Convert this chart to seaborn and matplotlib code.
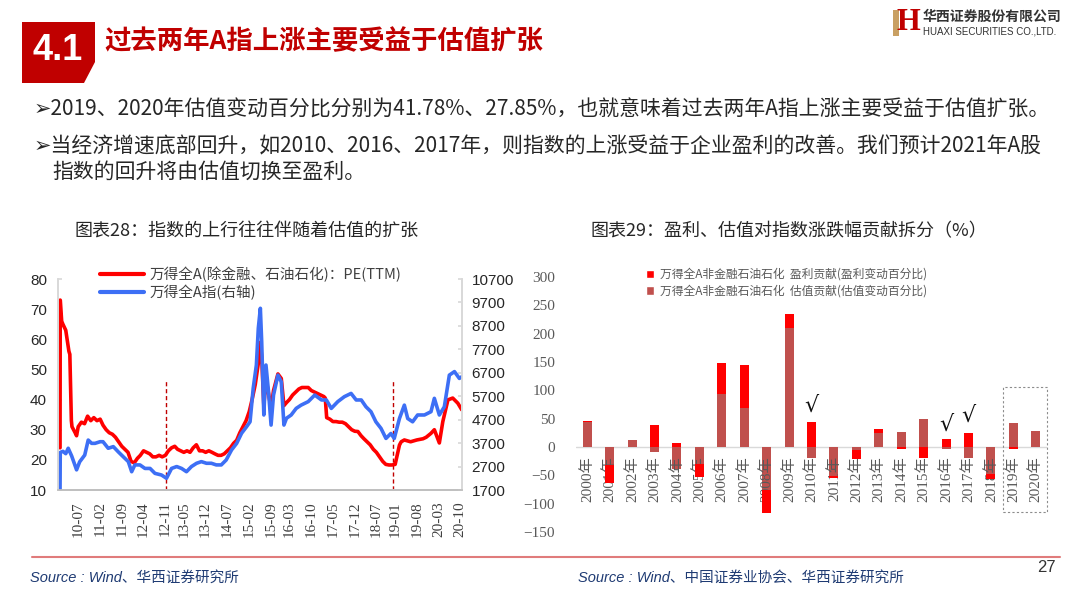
import numpy as np
import pandas as pd
import matplotlib
matplotlib.use("Agg")
import matplotlib.pyplot as plt
import matplotlib.dates as mdates
import seaborn as sns
from matplotlib.patches import Polygon, Rectangle, Patch
from matplotlib.lines import Line2D

# ---------------- data ----------------
pe_dates = ["2010-01-04", "2010-01-06", "2010-01-20", "2010-02-01", "2010-03-01", "2010-04-01", "2010-04-10",
            "2010-04-25", "2010-05-01", "2010-06-01", "2010-06-15", "2010-07-01", "2010-08-01", "2010-09-01",
            "2010-10-01", "2010-11-01", "2010-12-01", "2011-01-01", "2011-02-01", "2011-03-01", "2011-04-01",
            "2011-05-01", "2011-06-01", "2011-07-01", "2011-08-01", "2011-09-01", "2011-10-01", "2011-11-01",
            "2011-12-01", "2012-01-01", "2012-02-01", "2012-03-01", "2012-04-01", "2012-05-01", "2012-06-01",
            "2012-07-01", "2012-08-01", "2012-09-01", "2012-10-01", "2012-11-01", "2012-12-01", "2013-01-01",
            "2013-02-01", "2013-03-01", "2013-04-01", "2013-05-01", "2013-06-01", "2013-07-01", "2013-08-01",
            "2013-09-01", "2013-10-01", "2013-11-01", "2013-12-01", "2014-01-01", "2014-02-01", "2014-03-01",
            "2014-04-01", "2014-05-01", "2014-06-01", "2014-07-01", "2014-08-01", "2014-09-01", "2014-10-01",
            "2014-11-01", "2014-12-01", "2015-01-01", "2015-02-01", "2015-03-01", "2015-04-01", "2015-05-01",
            "2015-05-21", "2015-06-03", "2015-06-24", "2015-07-15", "2015-08-09", "2015-09-03", "2015-09-27",
            "2015-11-09", "2015-12-12", "2016-01-07", "2016-02-01", "2016-03-01", "2016-04-01", "2016-05-01",
            "2016-06-01", "2016-07-01", "2016-08-01", "2016-09-01", "2016-10-01", "2016-11-01", "2016-12-01",
            "2017-01-01", "2017-02-01", "2017-02-15", "2017-03-01", "2017-04-01", "2017-05-01", "2017-06-01",
            "2017-07-01", "2017-08-01", "2017-09-01", "2017-10-01", "2017-11-01", "2017-12-01", "2018-01-01",
            "2018-02-01", "2018-03-01", "2018-04-01", "2018-05-01", "2018-06-01", "2018-07-01", "2018-08-01",
            "2018-09-01", "2018-10-01", "2018-11-01", "2018-12-01", "2019-01-01", "2019-02-12", "2019-03-01",
            "2019-04-01", "2019-05-01", "2019-06-01", "2019-07-01", "2019-08-01", "2019-09-01", "2019-10-01",
            "2019-11-01", "2019-12-18", "2020-01-20", "2020-03-09", "2020-04-12", "2020-06-01", "2020-07-18",
            "2020-09-06", "2020-10-15"]
pe_values = [24, 73, 66, 65, 63, 56, 55,
             33, 31, 29, 28, 31, 32.5, 32,
             34.5, 33, 34, 33, 33.5, 31.5, 30,
             29, 28.5, 27.5, 26, 24.5, 23.5, 22.5,
             19.5, 19, 20.5, 21.5, 23, 22.5, 22,
             21, 21, 21.5, 21, 21.5, 23, 24,
             24.5, 23.5, 23, 22.5, 23, 22.5, 24,
             25, 23, 23, 22.5, 23, 22.5, 22,
             21.5, 21.5, 22, 23, 24, 25.5, 26.5,
             29, 31, 33, 36, 40, 45, 52,
             59, 54, 38, 47, 42, 37, 43,
             48.5, 47, 38, 39, 40, 41.5, 42.5,
             43.5, 44, 44, 44, 43, 42.5, 42,
             41.5, 41, 40.5, 34, 33.5, 32.7, 32.7,
             32.5, 32.5, 32, 31, 30, 29.5, 29.4,
             28, 27, 26, 25, 23.5, 22.5, 21,
             19.5, 18.5, 18.3, 18.3, 18.5, 24.9, 26,
             26.6, 26.3, 26, 26.3, 26.6, 26.8, 27,
             27.5, 28.8, 30, 25.6, 32.7, 39.9, 40.5,
             38.8, 36.6]

idx_dates = ["2010-01-04", "2010-01-06", "2010-02-01", "2010-03-01", "2010-03-25", "2010-04-28", "2010-06-15",
             "2010-07-15", "2010-09-03", "2010-10-07", "2010-11-10", "2010-12-13", "2011-02-01", "2011-03-01",
             "2011-04-21", "2011-06-10", "2011-07-28", "2011-09-15", "2011-11-04", "2011-12-07", "2012-01-07",
             "2012-02-26", "2012-04-15", "2012-06-04", "2012-07-22", "2012-09-24", "2012-11-12", "2013-01-01",
             "2013-02-20", "2013-04-09", "2013-05-27", "2013-07-15", "2013-09-03", "2013-10-20", "2013-12-09",
             "2014-01-26", "2014-03-15", "2014-05-03", "2014-06-20", "2014-08-12", "2014-10-01", "2014-11-18",
             "2015-01-06", "2015-02-09", "2015-03-12", "2015-04-12", "2015-05-01", "2015-05-21", "2015-06-03",
             "2015-06-24", "2015-07-15", "2015-08-09", "2015-09-03", "2015-09-27", "2015-11-09", "2015-12-12",
             "2016-01-07", "2016-02-01", "2016-03-18", "2016-05-06", "2016-06-23", "2016-09-01", "2016-11-04",
             "2017-01-09", "2017-02-26", "2017-04-15", "2017-06-18", "2017-08-21", "2017-10-26", "2017-12-15",
             "2018-02-03", "2018-03-21", "2018-05-09", "2018-06-26", "2018-08-15", "2018-10-03", "2018-11-20",
             "2018-12-23", "2019-02-12", "2019-04-01", "2019-05-04", "2019-06-21", "2019-08-09", "2019-10-15",
             "2019-12-18", "2020-01-20", "2020-03-09", "2020-04-27", "2020-06-15", "2020-08-04", "2020-09-21",
             "2020-10-15"]
idx_values = [1700, 3300, 3350, 3250, 3480, 3150, 2560,
              2900, 3190, 3830, 3690, 3690, 3760, 3760,
              3480, 3550, 3330, 3120, 2910, 2480, 2770,
              2770, 2620, 2620, 2410, 2340, 2200, 2620,
              2700, 2620, 2480, 2700, 2840, 2910, 2840,
              2840, 2770, 2770, 2980, 3410, 3690, 4120,
              4400, 4610, 6040, 7030, 8600, 9450, 8030,
              4900, 7030, 5890, 4470, 5750, 6600, 6320,
              4470, 4760, 4900, 5180, 5320, 5470, 5750,
              5540, 5540, 5180, 5470, 5680, 5820, 5540,
              5540, 5250, 5040, 4610, 4330, 3900, 4110,
              3900, 4750, 5320, 4750, 4610, 4900, 4900,
              5040, 5610, 4900, 5250, 6600, 6750, 6460,
              6530]

tick_dates = ["2010-07-01", "2011-02-01", "2011-09-01", "2012-04-01", "2012-11-01", "2013-05-01", "2013-12-01",
              "2014-07-01", "2015-02-01", "2015-09-01", "2016-03-01", "2016-10-01", "2017-05-01", "2017-12-01",
              "2018-07-01", "2019-01-01", "2019-08-01", "2020-03-01", "2020-10-01"]
tick_labels = ["10-07", "11-02", "11-09", "12-04", "12-11", "13-05", "13-12", "14-07", "15-02", "15-09",
               "16-03", "16-10", "17-05", "17-12", "18-07", "19-01", "19-08", "20-03", "20-10"]
marker_dates = ["2012-11-12", "2018-12-10"]

years = [2000, 2001, 2002, 2003, 2004, 2005, 2006, 2007, 2008, 2009, 2010,
         2011, 2012, 2013, 2014, 2015, 2016, 2017, 2018, 2019, 2020]
valuation = [45, -31, 12, -9, -39, -30, 94, 69, -76, 210, -19,
             -51, -5, 24, 27, 49, -4, -20, -47, 41.78, 27.85]
earnings = [1, -32, 0, 38, 7, -23, 54, 75, -40, 25, 44,
            -3, -17, 8, -4, -19, 15, 25, -9, -4, 0]
check_years = [2010, 2016, 2017]
check_y = [72, 40, 55]

# ---------------- figure ----------------
sns.set_theme(style="white")
plt.rcParams['font.family'] = ['Noto Sans CJK SC', 'DejaVu Sans']
plt.rcParams['axes.unicode_minus'] = True

W, H = 1080, 608
fig = plt.figure(figsize=(10.8, 6.08), dpi=100)
fig.patch.set_facecolor('white')


def fx(px):
    return px / W


def fy(py):
    return 1 - py / H


CJK = ['Noto Sans CJK SC', 'DejaVu Sans']
SERIF = ['Liberation Serif', 'Noto Sans CJK SC']

# header
fig.patches.append(Polygon([[fx(22), fy(22)], [fx(95), fy(22)], [fx(95), fy(62)], [fx(84), fy(83)], [fx(22), fy(83)]],
                           closed=True, transform=fig.transFigure, facecolor='#C00000', edgecolor='none'))
fig.text(fx(58), fy(50), '4.1', color='white', fontsize=26, fontweight='bold', family='Liberation Sans',
         ha='center', va='center')
fig.text(fx(104), fy(42), '过去两年A指上涨主要受益于估值扩张', color='#C00000', fontsize=19, fontweight='bold',
         family=CJK, ha='left', va='center')

# logo
fig.patches.append(Rectangle((fx(893), fy(36)), 6 / W, 26 / H, transform=fig.transFigure,
                             facecolor='#C9A063', edgecolor='none'))
fig.text(fx(908), fy(23), 'H', color='#C00000', fontsize=22, fontweight='bold', family='Liberation Serif',
         ha='center', va='center')
fig.text(fx(923), fy(17), '华西证券股份有限公司', fontsize=10, fontweight='bold', color='#333333', family=CJK,
         ha='left', va='center')
fig.text(fx(923), fy(31), 'HUAXI SECURITIES CO.,LTD.', fontsize=7, color='#333333', family='Liberation Sans',
         ha='left', va='center')

# bullets
fig.text(fx(34), fy(110), '➢2019、2020年估值变动百分比分别为41.78%、27.85%，也就意味着过去两年A指上涨主要受益于估值扩张。',
         fontsize=15, family=CJK, color='#262626', va='center', ha='left')
fig.text(fx(34), fy(146), '➢当经济增速底部回升，如2010、2016、2017年，则指数的上涨受益于企业盈利的改善。我们预计2021年A股',
         fontsize=15, family=CJK, color='#262626', va='center', ha='left')
fig.text(fx(52), fy(172), '指数的回升将由估值切换至盈利。', fontsize=15, family=CJK, color='#262626',
         va='center', ha='left')

# chart titles
fig.text(fx(75), fy(231), '图表28：指数的上行往往伴随着估值的扩张', fontsize=13, family=CJK, color='#262626',
         va='center', ha='left')
fig.text(fx(590), fy(231), '图表29：盈利、估值对指数涨跌幅贡献拆分（%）', fontsize=13, family=CJK, color='#262626',
         va='center', ha='left')

# ---------------- left chart ----------------
ax1 = fig.add_axes([fx(58), fy(490), (462 - 58) / W, (490 - 279) / H])
ax1.set_facecolor('white')
pe_x = pd.to_datetime(pe_dates)
idx_x = pd.to_datetime(idx_dates)
sns.lineplot(x=pe_x, y=pe_values, ax=ax1, color='#FF0000', linewidth=2.6, legend=False, estimator=None)
ax1.vlines(pd.to_datetime(marker_dates), 10, 46.5, colors='#C00000', linestyles=(0, (3, 2)), linewidth=1, zorder=1)
ax1.set_ylim(10, 80)
ax1.set_yticks(range(10, 81, 10))
ax1.set_yticklabels([str(v) for v in range(10, 81, 10)], family='Liberation Sans', fontsize=11, color='#262626')
ax1.set_xlim(pd.Timestamp('2009-12-15'), pd.Timestamp('2020-10-17'))
ax1.set_xticks(pd.to_datetime(tick_dates))
ax1.set_xticklabels(tick_labels, rotation=90, family='Liberation Serif', fontsize=11, color='#404040')
ax1.xaxis.set_minor_locator(mdates.MonthLocator())
ax1.tick_params(axis='x', which='both', direction='in', length=4, width=0.8, color='#A6A6A6', pad=8)
ax1.tick_params(axis='y', direction='in', length=3, color='#D9D9D9', pad=8)
ax1.set_xlabel('')
ax1.set_ylabel('')

ax2 = ax1.twinx()
sns.lineplot(x=idx_x, y=idx_values, ax=ax2, color='#3D6FF5', linewidth=2.6, legend=False, estimator=None)
ax2.set_ylim(1700, 10700)
ax2.set_yticks(range(1700, 10701, 1000))
ax2.set_yticklabels([str(v) for v in range(1700, 10701, 1000)], family='Liberation Sans', fontsize=11,
                    color='#262626')
ax2.tick_params(axis='y', direction='in', length=3, color='#D9D9D9', pad=7)
ax2.set_ylabel('')
ax2.set_xlim(pd.Timestamp('2009-12-15'), pd.Timestamp('2020-10-17'))
for a in (ax1, ax2):
    a.spines['top'].set_visible(False)
    a.spines['left'].set_color('#D9D9D9')
    a.spines['right'].set_color('#D9D9D9')
    a.spines['bottom'].set_color('#BFBFBF')
    a.grid(False)

fig.legend([Line2D([], [], color='#FF0000', lw=3), Line2D([], [], color='#3D6FF5', lw=3)],
           ['万得全A(除金融、石油石化)：PE(TTM)', '万得全A指(右轴)'],
           loc='upper left', bbox_to_anchor=(fx(100), fy(267)), frameon=False, fontsize=10.5,
           handlelength=3.0, handletextpad=0.4, labelspacing=0.15, borderpad=0, borderaxespad=0,
           labelcolor='#404040', prop={'family': CJK, 'size': 10.5})

# ---------------- right chart ----------------
ax3 = fig.add_axes([fx(576), fy(532), (1047 - 576) / W, (532 - 277) / H])
ax3.set_facecolor('white')
cat = [f"{y}年" for y in years]
val_arr = np.array(valuation, dtype=float)
earn_arr = np.array(earnings, dtype=float)
earn_bottom = np.where(np.sign(earn_arr) == np.sign(val_arr), val_arr, 0.0)
sns.barplot(x=cat, y=val_arr, color='#C0504D', saturation=1, width=0.4, errorbar=None, ax=ax3,
            linewidth=0, zorder=2)
sns.barplot(x=cat, y=earn_arr, bottom=earn_bottom, color='#FF0000', saturation=1, width=0.4, errorbar=None,
            ax=ax3, linewidth=0, zorder=4)
ax3.axhline(0, color='#D9D9D9', lw=1, zorder=1)
for i, c in enumerate(cat):
    ax3.text(i, -16, c, rotation=90, ha='center', va='top', fontsize=11, color='#595959', family=SERIF, zorder=3)
for yr, yv in zip(check_years, check_y):
    ax3.text(years.index(yr), yv, '√', ha='center', va='center', fontsize=16, color='#111111',
             family='DejaVu Serif', zorder=5)
ax3.add_patch(Rectangle((18.55, -115), 1.93, 221, fill=False, edgecolor='#8C8C8C', linestyle=(0, (2, 2)),
                        linewidth=0.8, clip_on=False, zorder=5))
ax3.set_xlim(-0.5, 20.5)
ax3.set_ylim(-150, 300)
yt = list(range(-150, 301, 50))
ax3.set_yticks(yt)
ax3.set_yticklabels([str(v).replace('-', '−') for v in yt], family='Liberation Serif', fontsize=11,
                    color='#595959')
ax3.set_xticks([])
ax3.tick_params(axis='y', length=0, pad=15)
ax3.set_xlabel('')
ax3.set_ylabel('')
for s in ax3.spines.values():
    s.set_visible(False)
ax3.grid(False)

fig.legend([Patch(facecolor='#FF0000'), Patch(facecolor='#C0504D')],
           ['万得全A非金融石油石化  盈利贡献(盈利变动百分比)', '万得全A非金融石油石化  估值贡献(估值变动百分比)'],
           loc='upper left', bbox_to_anchor=(fx(646), fy(268)), frameon=False,
           handlelength=0.7, handleheight=0.7, handletextpad=0.5, labelspacing=0.3, borderpad=0,
           borderaxespad=0, labelcolor='#595959', prop={'family': CJK, 'size': 8.5})

# footer
fig.add_artist(Line2D([fx(32), fx(1060)], [fy(557), fy(557)], color='#E07B7B', lw=1.5, transform=fig.transFigure))
fig.text(fx(30), fy(578), 'Source : Wind、华西证券研究所', style='italic', color='#1F3B73', fontsize=10.5,
         family=['Liberation Sans', 'Noto Sans CJK SC'], ha='left', va='center')
fig.text(fx(578), fy(578), 'Source : Wind、中国证券业协会、华西证券研究所', style='italic', color='#1F3B73',
         fontsize=10.5, family=['Liberation Sans', 'Noto Sans CJK SC'], ha='left', va='center')
fig.text(fx(1046), fy(568), '27', fontsize=12, color='#333333', family='Liberation Sans', ha='center',
         va='center')

fig.savefig('out.png', dpi=100)
